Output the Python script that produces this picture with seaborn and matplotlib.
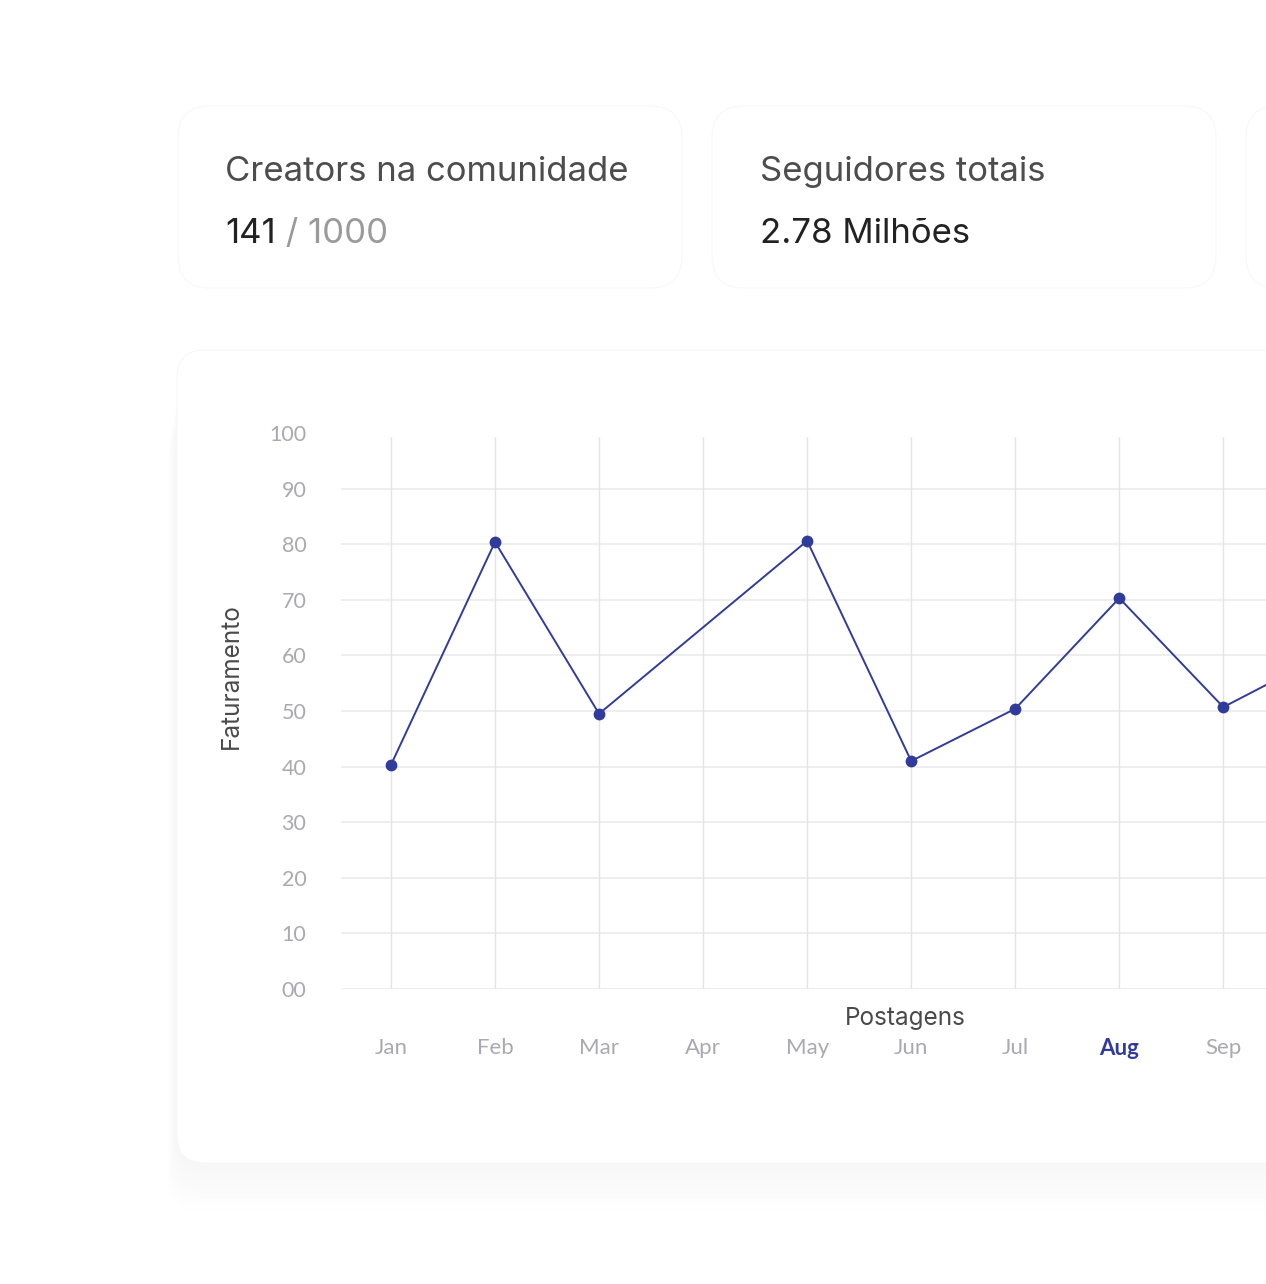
import matplotlib.pyplot as plt
import seaborn as sns
import pandas as pd
from matplotlib.patches import FancyBboxPatch

# ---------------------------------------------------------
# Data
# ---------------------------------------------------------
months = ["Jan", "Feb", "Mar", "Apr", "May", "Jun", "Jul", "Aug", "Sep", "Oct"]
point_months = ["Jan", "Feb", "Mar", "May", "Jun", "Jul", "Aug", "Sep", "Oct"]
faturamento = [40.3, 80.4, 49.5, 80.6, 41.0, 50.4, 70.3, 50.7, 60.4]

y_ticks = [0, 10, 20, 30, 40, 50, 60, 70, 80, 90, 100]
y_tick_labels = ["00", "10", "20", "30", "40", "50", "60", "70", "80", "90", "100"]
highlight_month = "Aug"

card_titles = ["Creators na comunidade", "Seguidores totais"]
creators_now = "141"
creators_max = " / 1000"
seguidores = "2.78 Milhões"

LINE = "#313b9b"
TICK = "#a9a9b1"
LABEL = "#4a4a4a"

sns.set_theme(style="white")
plt.rcParams["font.family"] = ["Lato", "DejaVu Sans"]
head_font = ["Inter", "DejaVu Sans"]

W, H = 1266, 1284
fig = plt.figure(figsize=(W / 100, H / 100), dpi=100)
fig.patch.set_facecolor("white")

# background layer in pixel coordinates
bg = fig.add_axes([0, 0, 1, 1], zorder=0)
bg.set_xlim(0, W)
bg.set_ylim(H, 0)
bg.axis("off")

# very soft shadow under the big card
for i in range(8):
    off = 6 + i * 6
    bg.add_patch(FancyBboxPatch((175 - i, 380 + off), 1300, 783,
                                boxstyle="round,pad=0,rounding_size=30",
                                fc="#000000", ec="none", alpha=0.0045))
bg.add_patch(FancyBboxPatch((177, 350), 1300, 813,
                            boxstyle="round,pad=0,rounding_size=28",
                            fc="white", ec="#f7f7f7", lw=0.8))

# stat cards
for x0 in [178, 712, 1246]:
    bg.add_patch(FancyBboxPatch((x0, 106), 504, 182,
                                boxstyle="round,pad=0,rounding_size=32",
                                fc="white", ec="#f8f8f8", lw=0.8))

bg.text(225, 181, card_titles[0], fontsize=25, color="#4d4d4d",
        family=head_font, va="baseline", ha="left")
bg.text(760, 181, card_titles[1], fontsize=25, color="#4d4d4d",
        family=head_font, va="baseline", ha="left")
t1 = bg.text(225, 243, creators_now, fontsize=25, color="#222222",
             family=head_font, va="baseline", ha="left")
bg.annotate(creators_max, xy=(1, 0), xycoords=t1, fontsize=25,
            color="#9a9a9a", family=head_font, va="bottom", ha="left")
bg.text(760, 243, seguidores, fontsize=25, color="#222222",
        family=head_font, va="baseline", ha="left")

# ---------------------------------------------------------
# Line chart
# ---------------------------------------------------------
ax = fig.add_axes([341 / W, 1 - 989 / H, 925 / W, 556 / H], zorder=2)
ax.set_facecolor("none")

df = pd.DataFrame({
    "pos": [months.index(m) for m in point_months],
    "value": faturamento,
})

# grid lines
for yv in y_ticks[:-1]:
    ax.axhline(yv, color="#ededed", lw=1.3, zorder=0)
for i in range(len(months)):
    ax.plot([i, i], [0, 99.3], color="#e4e4e6", lw=1.0, zorder=0)

sns.lineplot(data=df, x="pos", y="value", ax=ax, color=LINE, lw=1.4,
             marker="o", markersize=8.5, markeredgewidth=0, zorder=3)

sns.despine(ax=ax, left=True, bottom=True)

ax.set_yticks(y_ticks)
ax.set_yticklabels(y_tick_labels, fontsize=15.5, color=TICK)
ax.set_xticks(range(len(months)))
ax.set_xticklabels(months, fontsize=16, color=TICK)
ax.tick_params(axis="y", length=0, pad=25)
ax.tick_params(axis="x", length=0, pad=35)
for lbl in ax.get_xticklabels():
    if lbl.get_text() == highlight_month:
        lbl.set_color(LINE)
        lbl.set_fontweight("bold")

# limits after ticks (set_xticks widens the view)
ax.set_xlim(-0.48, 8.41)
ax.set_ylim(0, 100)

ax.set_xlabel("Postagens", fontsize=17.5, color=LABEL, family=head_font)
ax.xaxis.set_label_coords(0.61, -0.033)
ax.set_ylabel("Faturamento", fontsize=17.5, color=LABEL, family=head_font)
ax.yaxis.set_label_coords(-0.106, 0.563)

fig.savefig("out.png", dpi=100, facecolor="white")
